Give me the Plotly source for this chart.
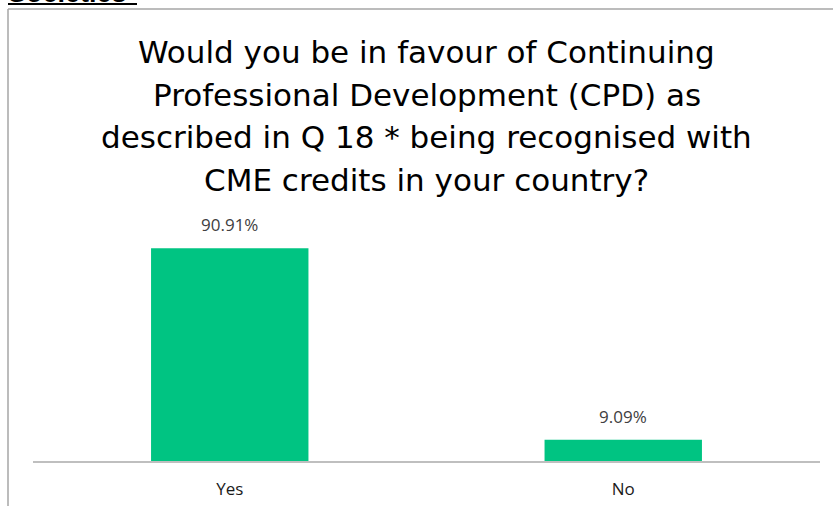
import plotly.graph_objects as go

categories = ["Yes", "No"]
values = [90.91, 9.09]
labels = ["90.91%", "9.09%"]
title_lines = [
    "Would you be in favour of Continuing",
    "Professional Development (CPD) as",
    "described in Q 18 * being recognised with",
    "CME credits in your country?",
]
header_text = "Societies"

W, H = 833, 506
L, R, T, B = 33, 13, 227, 45
pw, ph = W - L - R, H - T - B

def px_x(px):
    return (px - L) / pw

def px_y(py):
    return (H - B - py) / ph

fig = go.Figure()
fig.add_trace(go.Bar(
    x=categories, y=values,
    marker=dict(color="#00C482", line=dict(width=0)),
    hoverinfo="x+y",
))

annotations = []
for c, v, t in zip(categories, values, labels):
    annotations.append(dict(
        text=t, x=c, y=v, xref="x", yref="y", xanchor="center", yanchor="bottom",
        yshift=10, showarrow=False,
        font=dict(family="Open Sans", size=17, color="#404040"),
    ))
for i, line in enumerate(title_lines):
    annotations.append(dict(
        text=line, xref="paper", yref="paper", x=0.5, y=px_y(52 + i * 42.7),
        xanchor="center", yanchor="middle", showarrow=False,
        font=dict(family="DejaVu Sans", size=31, color="#000000"),
    ))
annotations.append(dict(
    text="<b>" + header_text + "</b>", xref="paper", yref="paper", x=px_x(6), y=px_y(10),
    xanchor="left", yanchor="bottom", showarrow=False,
    font=dict(family="Liberation Sans", size=27, color="#000000"),
))

shapes = [
    dict(type="line", xref="paper", yref="paper", x0=px_x(8), x1=px_x(840),
         y0=px_y(9), y1=px_y(9), line=dict(color="#a6a6a6", width=1.5)),
    dict(type="line", xref="paper", yref="paper", x0=px_x(8), x1=px_x(8),
         y0=px_y(9), y1=px_y(520), line=dict(color="#a6a6a6", width=1.5)),
    dict(type="line", xref="paper", yref="paper", x0=px_x(8), x1=px_x(137),
         y0=px_y(4), y1=px_y(4), line=dict(color="#000000", width=2)),
]

fig.update_layout(
    width=W, height=H,
    margin=dict(l=L, r=R, t=T, b=B, pad=0, autoexpand=False),
    paper_bgcolor="white", plot_bgcolor="white",
    bargap=0.6,
    showlegend=False,
    annotations=annotations,
    shapes=shapes,
    xaxis=dict(showline=True, linecolor="#bfbfbf", linewidth=1.5, ticks="",
               ticklabelstandoff=12, automargin=False,
               tickfont=dict(family="Open Sans", size=17, color="#1a1a1a"),
               showgrid=False, zeroline=False),
    yaxis=dict(range=[0, 100], visible=False, showgrid=False, zeroline=False,
               automargin=False),
)

fig.write_html("out.html", config={"displayModeBar": False},
               post_script="document.body.style.margin='0px';")
